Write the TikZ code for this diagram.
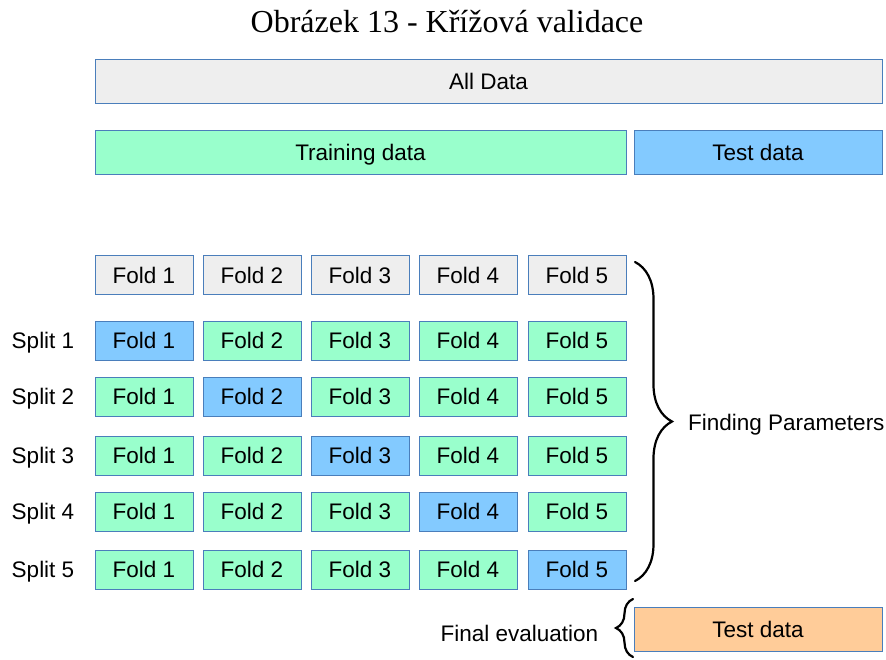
\documentclass[tikz,border=0pt]{standalone}
\usepackage{fontspec}
\setmainfont{Liberation Serif}
\setsansfont{Liberation Sans}
\usepackage{xcolor}
\usetikzlibrary{decorations.pathreplacing}
\definecolor{edgeblue}{HTML}{4A7EBB}
\definecolor{allgray}{HTML}{EEEEEE}
\definecolor{traingreen}{HTML}{99FFCC}
\definecolor{testblue}{HTML}{83CAFF}
\definecolor{evalorange}{HTML}{FFCC99}

\begin{document}
\begin{tikzpicture}[x=1pt,y=-1pt,%
% common options for the wide data boxes:
datbox/.style = {draw=edgeblue, line width=0.8pt, align=center,
            minimum height=44pt, inner sep=0, text height=16pt, text depth=0pt,
            font=\sffamily\fontsize{22.5}{26}\selectfont},
% common options for the folds:
fold/.style = {draw=edgeblue, line width=0.8pt, align=center,
            minimum width=98pt, minimum height=39pt, inner sep=0,
            text height=16pt, text depth=0pt,
            font=\sffamily\fontsize{22.5}{26}\selectfont},
% plain labels:
lbl/.style = {inner sep=0, text height=16pt, text depth=0pt,
            font=\sffamily\fontsize{22.5}{26}\selectfont},
% curly braces:
curly/.style = {decorate, line width=2.2pt, line cap=round}]
\useasboundingbox (0,0) rectangle (886,659);
\node[inner sep=0, font=\fontsize{32}{38}\selectfont] (T0) at (447,22) {Obrázek 13 - Křížová validace};
\node[datbox,fill=allgray,minimum width=787pt] (D0) at (488.5,81.5) {All Data};
\node[datbox,fill=traingreen,minimum width=531pt] (D1) at (360.5,152) {Training data};
\node[datbox,fill=testblue,minimum width=248pt] (D2) at (758,152) {Test data};
\node[fold,fill=allgray] (H1) at (144,275) {Fold 1};
\node[fold,fill=allgray] (H2) at (252,275) {Fold 2};
\node[fold,fill=allgray] (H3) at (360,275) {Fold 3};
\node[fold,fill=allgray] (H4) at (468,275) {Fold 4};
\node[fold,fill=allgray] (H5) at (577,275) {Fold 5};
\node[lbl] (S1) at (43,340.5) {Split 1};
\node[lbl] (S2) at (43,396.5) {Split 2};
\node[lbl] (S3) at (43,455.5) {Split 3};
\node[lbl] (S4) at (43,511.5) {Split 4};
\node[lbl] (S5) at (43,569.5) {Split 5};
\node[fold,fill=testblue] (S1F1) at (144,340.5) {Fold 1};
\node[fold,fill=traingreen] (S1F2) at (252,340.5) {Fold 2};
\node[fold,fill=traingreen] (S1F3) at (360,340.5) {Fold 3};
\node[fold,fill=traingreen] (S1F4) at (468,340.5) {Fold 4};
\node[fold,fill=traingreen] (S1F5) at (577,340.5) {Fold 5};
\node[fold,fill=traingreen] (S2F1) at (144,396.5) {Fold 1};
\node[fold,fill=testblue] (S2F2) at (252,396.5) {Fold 2};
\node[fold,fill=traingreen] (S2F3) at (360,396.5) {Fold 3};
\node[fold,fill=traingreen] (S2F4) at (468,396.5) {Fold 4};
\node[fold,fill=traingreen] (S2F5) at (577,396.5) {Fold 5};
\node[fold,fill=traingreen] (S3F1) at (144,455.5) {Fold 1};
\node[fold,fill=traingreen] (S3F2) at (252,455.5) {Fold 2};
\node[fold,fill=testblue] (S3F3) at (360,455.5) {Fold 3};
\node[fold,fill=traingreen] (S3F4) at (468,455.5) {Fold 4};
\node[fold,fill=traingreen] (S3F5) at (577,455.5) {Fold 5};
\node[fold,fill=traingreen] (S4F1) at (144,511.5) {Fold 1};
\node[fold,fill=traingreen] (S4F2) at (252,511.5) {Fold 2};
\node[fold,fill=traingreen] (S4F3) at (360,511.5) {Fold 3};
\node[fold,fill=testblue] (S4F4) at (468,511.5) {Fold 4};
\node[fold,fill=traingreen] (S4F5) at (577,511.5) {Fold 5};
\node[fold,fill=traingreen] (S5F1) at (144,569.5) {Fold 1};
\node[fold,fill=traingreen] (S5F2) at (252,569.5) {Fold 2};
\node[fold,fill=traingreen] (S5F3) at (360,569.5) {Fold 3};
\node[fold,fill=traingreen] (S5F4) at (468,569.5) {Fold 4};
\node[fold,fill=testblue] (S5F5) at (577,569.5) {Fold 5};
\node[lbl,anchor=west] (P0) at (688,422) {Finding Parameters};
\node[datbox,fill=evalorange,minimum width=248pt] (E1) at (758,629) {Test data};
\node[lbl] (E0) at (519.5,633) {Final evaluation};
% braces
\coordinate (PB1) at (635,262);
\coordinate (PB2) at (635,581);
\coordinate (EB1) at (633,599);
\coordinate (EB2) at (633,657);
\draw[curly,decoration={brace,amplitude=37pt}] (PB1) -- (PB2);
\draw[curly,decoration={brace,amplitude=17pt}] (EB2) -- (EB1);
\end{tikzpicture}
\end{document}
